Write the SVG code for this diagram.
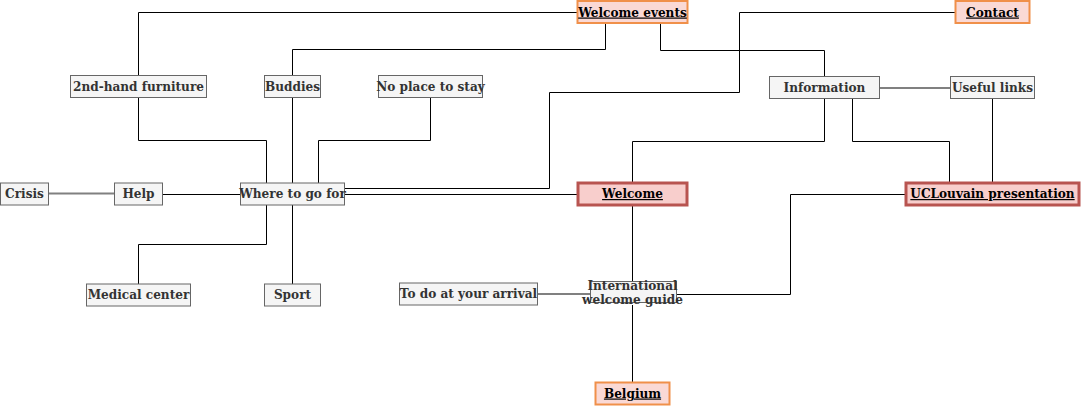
<svg xmlns="http://www.w3.org/2000/svg" width="1081" height="407" viewBox="0 0 1081 407">
<style>
text{font-family:"DejaVu Serif","Liberation Serif",serif;font-weight:bold;font-size:12.1px;text-anchor:middle}
.g rect{fill:#f5f5f5;stroke:#666;stroke-width:1}
.g text{fill:#333}
.o rect{fill:#fad9d5;stroke:#f0904a;stroke-width:2}
.r rect{fill:#f8cecc;stroke:#b85450;stroke-width:3}
.o text,.r text{fill:#000;text-decoration:underline}
.c path{fill:none;stroke:#000;stroke-width:1}
.c path.gr{stroke:#808080;stroke-width:2}
</style>
<rect width="1081" height="407" fill="#fff"/>
<g class="c" id="connectors">
<path d="M577,12.5H138.5V75"/>
<path d="M138.5,98V140.5H266.5V183"/>
<path d="M605.5,24V49.5H292.5V75"/>
<path d="M292.5,98V183"/>
<path d="M430.5,98V140.5H318.5V183"/>
<path d="M660.5,24V50.5H824.5V76"/>
<path d="M344,188.5H549.5V92.5H739.5V12.5H955"/>
<path d="M344,194.5H577"/>
<path class="gr" d="M48,193.5H114"/>
<path d="M162,194.5H240"/>
<path d="M632.5,182V141.5H824.5V99"/>
<path class="gr" d="M879,88H950"/>
<path d="M852.5,99V141.5H949.5V182"/>
<path d="M992.5,99V182"/>
<path d="M905,194.5H790.5V294.5H675"/>
<path d="M266.5,205V244.5H138.5V284"/>
<path d="M292.5,205V284"/>
<path class="gr" d="M537,294H590"/>
<path d="M632.5,206V281"/>
<path d="M632.5,305V382"/>
</g>
<g id="n-furniture" class="g"><rect x="70.5" y="75.5" width="136" height="22"/><text x="138.5" y="90.5">2nd-hand furniture</text></g>
<g id="n-buddies" class="g"><rect x="264.5" y="75.5" width="56" height="22"/><text x="292.5" y="90.5">Buddies</text></g>
<g id="n-noplace" class="g"><rect x="378.5" y="75.5" width="104" height="22"/><text x="430.5" y="90.5">No place to stay</text></g>
<g id="n-events" class="o"><rect x="577.5" y="1" width="110" height="22"/><text x="632.5" y="16.5">Welcome events</text></g>
<g id="n-contact" class="o"><rect x="955.5" y="1" width="74" height="22"/><text x="992.5" y="16.5">Contact</text></g>
<g id="n-information" class="g"><rect x="769.5" y="76.5" width="110" height="22"/><text x="824.5" y="91.5">Information</text></g>
<g id="n-links" class="g"><rect x="950.5" y="76.5" width="84" height="22"/><text x="992.5" y="91.5">Useful links</text></g>
<g id="n-crisis" class="g"><rect x="0.5" y="183" width="48" height="22"/><text x="24.5" y="198">Crisis</text></g>
<g id="n-help" class="g"><rect x="114.5" y="183" width="48" height="22"/><text x="138.5" y="198">Help</text></g>
<g id="n-where" class="g"><rect x="240.5" y="183" width="104" height="22"/><text x="292.5" y="198">Where to go for</text></g>
<g id="n-welcome" class="r"><rect x="578" y="183" width="109" height="22"/><text x="632.5" y="198">Welcome</text></g>
<g id="n-ucl" class="r"><rect x="906" y="183" width="173" height="22"/><text x="992.5" y="198">UCLouvain presentation</text></g>
<g id="n-medical" class="g"><rect x="86.5" y="284" width="104" height="22"/><text x="138.5" y="299">Medical center</text></g>
<g id="n-sport" class="g"><rect x="264.5" y="284" width="56" height="22"/><text x="292.5" y="299">Sport</text></g>
<g id="n-todo" class="g"><rect x="399.5" y="283" width="138" height="22"/><text x="468.5" y="298">To do at your arrival</text></g>
<g id="n-guide" class="g"><rect x="590.5" y="281.5" width="86" height="21"/><text x="632.5" y="290">International</text><text x="632.5" y="304">welcome guide</text></g>
<g id="n-belgium" class="o"><rect x="595.5" y="382.5" width="74" height="22"/><text x="632.5" y="397.5">Belgium</text></g>
</svg>
